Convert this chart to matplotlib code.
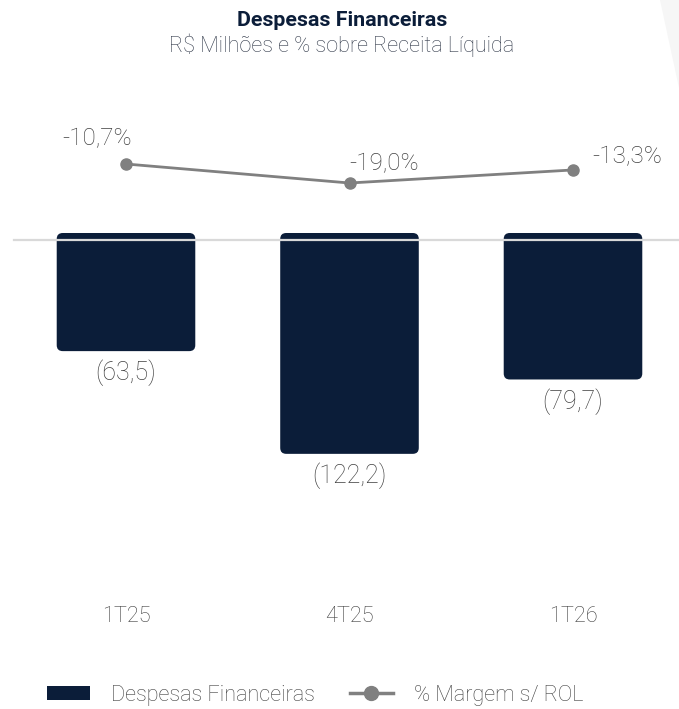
import numpy as np
import matplotlib
matplotlib.use('Agg')
import matplotlib.pyplot as plt
from matplotlib.patches import FancyBboxPatch, Polygon, Patch
from matplotlib.lines import Line2D

plt.rcParams['font.family'] = ['Roboto', 'DejaVu Sans']

# data
periodos = ['1T25', '4T25', '1T26']
despesas = [-63.5, -122.2, -79.7]
margem = [-10.7, -19.0, -13.3]
rot_despesas = ['(63,5)', '(122,2)', '(79,7)']
rot_margem = ['-10,7%', '-19,0%', '-13,3%']

navy = '#0b1d39'
cinza = '#808080'
texto = '#404040'

W, H = 679, 709
fig = plt.figure(figsize=(W / 100, H / 100), dpi=100)
ax = fig.add_axes([0, 0, 1, 1])
ax.axis('off')

# pixel based scales
x0, dx = 126, 223.5
ax.set_xlim(-x0 / dx, (W - x0) / dx)
ax.set_ylim(-(H - 240) / 1.75, 240 / 1.75)

x = np.arange(len(periodos))

# bars -> rounded bars
bars = ax.bar(x, despesas, width=0.62, color=navy)
rx = 6 / dx
aspect = (6 / 1.75) / rx
for b in bars:
    bx, by, bw, bh = b.get_x(), b.get_y(), b.get_width(), b.get_height()
    ymin = min(by, by + bh)
    hh = abs(bh) + 4
    p = FancyBboxPatch((bx, ymin), bw, hh,
                       boxstyle='round,pad=0,rounding_size=%f' % rx,
                       mutation_aspect=aspect, fc=navy, ec='none', zorder=2)
    ax.add_patch(p)
    b.remove()

ax.axhline(0, xmin=14 / W, xmax=1, color='#d9d9d9', lw=1.6, zorder=3)

for i, v in enumerate(despesas):
    ax.annotate(rot_despesas[i], (x[i], v), xytext=(0, -22 * 0.72), textcoords='offset points',
                ha='center', va='center', fontsize=18, color=texto, fontweight='light')

for i, p in enumerate(periodos):
    ax.text(x[i], -(617 - 240) / 1.75, p, ha='center', va='center', fontsize=15.7,
            color=texto, fontweight='light')

# line on its own scale
ax2 = ax.twinx()
ax2.axis('off')
ax2.set_ylim(-10.7 - (H - 164) / 2.29, -10.7 + 164 / 2.29)
ax2.plot(x, margem, color=cinza, lw=2, marker='o', markersize=8, zorder=4)

offs = [(-29, 25), (35, 19), (54, 13)]
for i, v in enumerate(margem):
    ax2.annotate(rot_margem[i], (x[i], v), xytext=(offs[i][0] * 0.72, offs[i][1] * 0.72),
                 textcoords='offset points', ha='center', va='center', fontsize=17.5,
                 color=texto, fontweight='light')

# titles
fig.text(342 / W, 1 - 26 / H, 'Despesas Financeiras', ha='center', va='baseline',
         fontsize=15.4, fontweight='bold', color='#0b1d39')
fig.text(342 / W, 1 - 52 / H, 'R$ Milhões e % sobre Receita Líquida', ha='center', va='baseline',
         fontsize=15.6, fontweight='light', color='#343c4c')

# faint corner shape
fig.patches.append(Polygon([(660 / W, 1), (1, 1), (1, 1 - 88 / H)], closed=True,
                           transform=fig.transFigure, fc='#f6f6f6', ec='none'))

# legend
h1 = Patch(fc=navy, ec='none', label='Despesas Financeiras')
h2 = Line2D([], [], color=cinza, lw=2.5, marker='o', markersize=10, label='% Margem s/ ROL')
leg = fig.legend(handles=[h1, h2], loc='center', bbox_to_anchor=(315 / W, 1 - 695 / H), ncol=2,
                 frameon=False, handlelength=2.0, handletextpad=0.95, handleheight=0.6,
                 columnspacing=1.6, labelcolor=texto, prop={'weight': 'light', 'size': 15.6})

fig.savefig('out.png', dpi=100)
